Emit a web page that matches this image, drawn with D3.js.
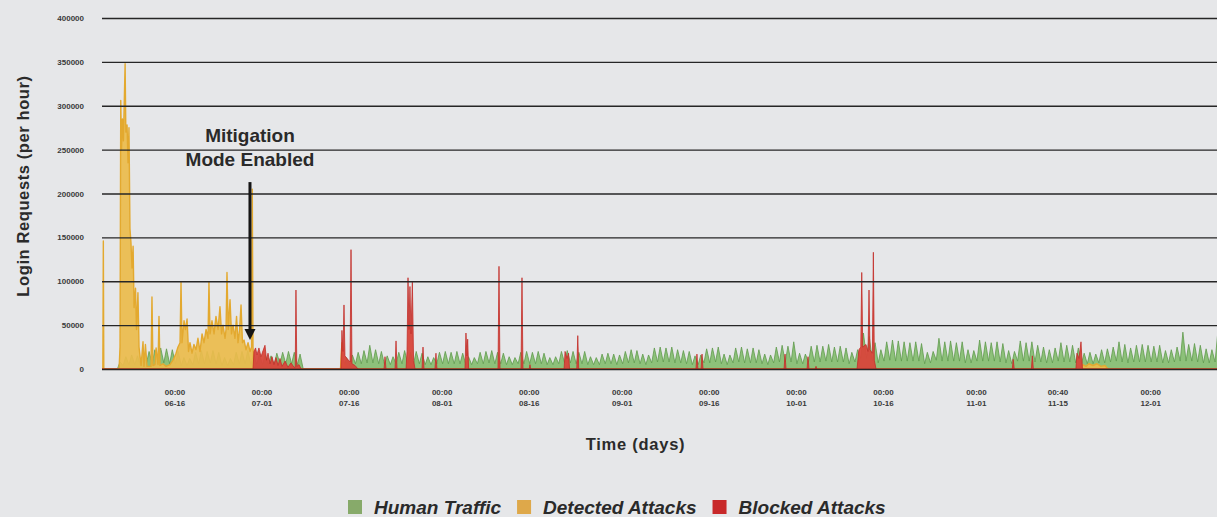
<!DOCTYPE html>
<html>
<head>
<meta charset="utf-8">
<script src="https://cdn.jsdelivr.net/npm/d3@7"></script>
<style>
  html, body { margin: 0; padding: 0; background: #e6e7e9; }
  svg { display: block; }
  text { font-family: "Liberation Sans", Arial, Helvetica, sans-serif; }
</style>
</head>
<body>
<svg id="chart" width="1217" height="517"></svg>
<script>
// ---- data ---------------------------------------------------------------
const seriesNames = ["Human Traffic", "Detected Attacks", "Blocked Attacks"];
const legendColors = ["#87aa6a", "#dea84a", "#c8292a"];

const timeRange = ["2023-06-03T12:30", "2023-12-12T12:00"];
const yTickValues = [0, 50000, 100000, 150000, 200000, 250000, 300000, 350000, 400000];
const xTickValues = [
  "2023-06-16T00:00", "2023-07-01T00:00", "2023-07-16T00:00", "2023-08-01T00:00",
  "2023-08-16T00:00", "2023-09-01T00:00", "2023-09-16T00:00", "2023-10-01T00:00",
  "2023-10-16T00:00", "2023-11-01T00:00", "2023-11-15T00:40", "2023-12-01T00:00"
];

// Human traffic: one daily high (afternoon) and one daily low (night), from 06-06
const humanStartDay = "2023-06-06";
const humanDailyPeak = [
  // June 6-30
  8000, 14000, 16000, 15000, 18000, 20000, 22000, 24000, 23000, 22000, 20000, 13000, 12000,
  19000, 21000, 20000, 21000, 19000, 13000, 12000, 19000, 20000, 21000, 18000, 17000,
  // July
  16000, 15000, 18000, 19000, 20000, 19000, 17000, 0, 0, 0, 0, 0, 0, 0,
  13000, 16000, 19000, 21000, 27000, 22000, 20000, 15000, 14000, 19000, 21000, 19000,
  20000, 18000, 14000, 13000, 19000,
  // August
  20000, 19000, 20000, 18000, 14000, 13000, 19000, 20000, 21000, 19000, 18000, 14000,
  13000, 19000, 20000, 19000, 20000, 18000, 13000, 14000, 20000, 21000, 20000, 19000,
  20000, 14000, 13000, 17000, 18000, 17000, 16000,
  // September
  20000, 22000, 21000, 17000, 16000, 24000, 25000, 24000, 25000, 22000, 21000, 20000,
  15000, 16000, 23000, 24000, 25000, 17000, 16000, 24000, 25000, 23000, 24000, 22000,
  17000, 16000, 25000, 27000, 26000, 31000,
  // October
  18000, 17000, 26000, 27000, 26000, 28000, 25000, 26000, 24000, 19000, 22000, 41000,
  37000, 30000, 22000, 31000, 33000, 32000, 31000, 30000, 31000, 29000, 19000, 20000,
  35000, 31000, 32000, 30000, 31000, 22000, 21000,
  // November
  33000, 31000, 30000, 31000, 29000, 21000, 20000, 32000, 30000, 31000, 27000, 25000,
  22000, 24000, 30000, 27000, 27000, 24000, 18000, 19000, 17000, 22000, 23000, 25000,
  31000, 28000, 24000, 27000, 28000, 27000,
  // December 1-12
  26000, 27000, 21000, 22000, 25000, 42000, 28000, 29000, 27000, 23000, 22000, 41000
];
const humanDailyLow = [
  0, 4000, 5000, 5000, 4000, 6000, 6000, 7000, 7000, 6000, 6000, 4000, 4000,
  5000, 6000, 6000, 7000, 6000, 4000, 4000, 5000, 6000, 6000, 5000, 5000,
  5000, 5000, 5000, 6000, 6000, 6000, 5000, 0, 0, 0, 0, 0, 0, 0,
  0, 5000, 6000, 6000, 7000, 7000, 6000, 5000, 5000, 6000, 6000, 6000,
  6000, 6000, 5000, 5000, 6000,
  6000, 6000, 6000, 6000, 5000, 5000, 6000, 6000, 7000, 6000, 6000, 5000,
  5000, 6000, 6000, 6000, 6000, 6000, 5000, 5000, 6000, 7000, 7000, 6000,
  6000, 5000, 5000, 5000, 6000, 6000, 5000,
  6000, 7000, 7000, 6000, 5000, 7000, 8000, 8000, 8000, 7000, 7000, 6000,
  5000, 5000, 7000, 7000, 8000, 6000, 5000, 7000, 8000, 7000, 7000, 7000,
  6000, 5000, 7000, 8000, 8000, 8000,
  6000, 6000, 8000, 8000, 8000, 9000, 8000, 8000, 8000, 6000, 8000, 12000,
  12000, 9000, 7000, 9000, 10000, 9000, 9000, 9000, 9000, 9000, 6000, 7000,
  10000, 9000, 9000, 9000, 9000, 7000, 7000,
  9000, 9000, 9000, 9000, 8000, 7000, 6000, 9000, 9000, 9000, 8000, 8000,
  7000, 7000, 9000, 8000, 8000, 7000, 6000, 6000, 6000, 7000, 7000, 8000,
  9000, 8000, 7000, 8000, 8000, 8000,
  8000, 8000, 7000, 7000, 8000, 9000, 9000, 9000, 8000, 7000, 7000, 8000
];

// Detected attacks, hourly requests at sampled times
const detectedAttacks = [
  ["2023-06-03T12:30", 0], ["2023-06-03T16:00", 0], ["2023-06-03T18:00", 146000], ["2023-06-03T20:00", 0],
  ["2023-06-06T11:00", 0], ["2023-06-06T15:00", 25000], ["2023-06-06T18:00", 306000], ["2023-06-06T21:00", 250000],
  ["2023-06-07T01:00", 285000], ["2023-06-07T05:00", 260000], ["2023-06-07T12:00", 348000], ["2023-06-07T15:00", 270000],
  ["2023-06-07T20:00", 278000], ["2023-06-08T00:00", 235000], ["2023-06-08T04:00", 275000], ["2023-06-08T08:00", 160000],
  ["2023-06-08T12:00", 145000], ["2023-06-08T16:30", 115000], ["2023-06-08T21:00", 140000], ["2023-06-09T01:00", 70000],
  ["2023-06-09T07:00", 92000], ["2023-06-09T11:00", 45000], ["2023-06-09T17:00", 87000], ["2023-06-09T21:30", 25000],
  ["2023-06-10T06:00", 4000], ["2023-06-10T14:00", 31000], ["2023-06-10T18:00", 3000], ["2023-06-11T00:00", 28000],
  ["2023-06-11T06:30", 3000], ["2023-06-11T23:00", 3000], ["2023-06-12T03:00", 82000], ["2023-06-12T07:00", 4000],
  ["2023-06-12T15:30", 5000], ["2023-06-12T20:00", 24000], ["2023-06-13T04:00", 5000], ["2023-06-13T08:00", 60000],
  ["2023-06-13T12:00", 4000], ["2023-06-14T00:30", 6000], ["2023-06-14T13:00", 3000], ["2023-06-15T05:30", 5000],
  ["2023-06-15T18:00", 10000], ["2023-06-16T06:30", 18000], ["2023-06-16T14:30", 25000], ["2023-06-16T23:00", 30000],
  ["2023-06-17T03:00", 99000], ["2023-06-17T07:00", 30000], ["2023-06-17T15:30", 55000], ["2023-06-17T21:30", 45000],
  ["2023-06-18T04:00", 57000], ["2023-06-18T10:00", 20000], ["2023-06-18T16:00", 30000], ["2023-06-19T00:30", 18000],
  ["2023-06-19T08:30", 28000], ["2023-06-19T17:00", 22000], ["2023-06-20T01:00", 35000], ["2023-06-20T09:30", 20000],
  ["2023-06-20T18:00", 40000], ["2023-06-21T02:00", 30000], ["2023-06-21T10:30", 45000], ["2023-06-21T18:30", 35000],
  ["2023-06-21T22:30", 99000], ["2023-06-22T03:00", 40000], ["2023-06-22T11:00", 55000], ["2023-06-22T19:30", 40000],
  ["2023-06-23T03:30", 60000], ["2023-06-23T12:00", 45000], ["2023-06-23T20:00", 71000], ["2023-06-24T02:30", 40000],
  ["2023-06-24T08:30", 50000], ["2023-06-24T17:00", 35000], ["2023-06-24T21:00", 45000], ["2023-06-25T01:00", 110000],
  ["2023-06-25T06:00", 45000], ["2023-06-25T13:30", 79000], ["2023-06-25T19:30", 40000], ["2023-06-26T02:00", 50000],
  ["2023-06-26T10:00", 35000], ["2023-06-26T16:30", 60000], ["2023-06-26T22:30", 30000], ["2023-06-27T05:00", 45000],
  ["2023-06-27T11:00", 73000], ["2023-06-27T17:00", 30000], ["2023-06-27T23:30", 33000], ["2023-06-28T07:30", 22000],
  ["2023-06-28T16:00", 30000], ["2023-06-29T00:00", 20000], ["2023-06-29T06:30", 25000], ["2023-06-29T09:30", 205000],
  ["2023-06-29T12:30", 25000], ["2023-06-29T16:30", 5000], ["2023-06-30T01:00", 0],
  ["2023-07-14T14:00", 0], ["2023-07-14T20:00", 30000], ["2023-07-15T00:30", 10000], ["2023-07-15T08:30", 6000],
  ["2023-07-15T17:00", 0],
  ["2023-11-18T22:00", 0], ["2023-11-19T10:00", 5000], ["2023-11-19T22:30", 3000], ["2023-11-20T11:00", 6000],
  ["2023-11-21T03:30", 4000], ["2023-11-21T20:00", 6000], ["2023-11-22T12:30", 3000], ["2023-11-23T05:00", 4000],
  ["2023-11-23T17:30", 0], ["2023-12-12T12:00", 0]
];

// Blocked attacks, hourly requests at sampled times
const blockedAttacks = [
  ["2023-06-03T12:30", 0], ["2023-06-29T12:30", 0], ["2023-06-29T16:30", 20000], ["2023-06-29T23:00", 24000],
  ["2023-06-30T05:00", 16000], ["2023-06-30T13:00", 24000], ["2023-06-30T21:30", 14000], ["2023-07-01T06:00", 21000],
  ["2023-07-01T14:00", 27000], ["2023-07-01T20:30", 10000], ["2023-07-02T02:30", 18000], ["2023-07-02T11:00", 6000],
  ["2023-07-02T19:00", 14000], ["2023-07-03T03:00", 5000], ["2023-07-03T11:30", 13000], ["2023-07-03T20:00", 4000],
  ["2023-07-04T04:00", 12000], ["2023-07-04T12:30", 3000], ["2023-07-05T01:00", 9000], ["2023-07-05T13:00", 2000],
  ["2023-07-06T01:30", 7000], ["2023-07-06T14:00", 2000], ["2023-07-06T19:00", 2000], ["2023-07-06T22:00", 90000],
  ["2023-07-07T01:30", 3000], ["2023-07-07T10:30", 5000], ["2023-07-07T19:00", 0],
  ["2023-07-14T16:00", 0], ["2023-07-14T20:00", 44000], ["2023-07-15T00:30", 20000], ["2023-07-15T04:30", 73000],
  ["2023-07-15T08:30", 15000], ["2023-07-15T17:00", 12000], ["2023-07-16T05:30", 8000], ["2023-07-16T09:30", 136000],
  ["2023-07-16T13:30", 6000], ["2023-07-17T02:00", 4000], ["2023-07-17T14:30", 0],
  ["2023-07-22T02:00", 0], ["2023-07-22T06:00", 14000], ["2023-07-22T10:00", 0],
  ["2023-07-23T23:30", 0], ["2023-07-24T03:30", 32000], ["2023-07-24T07:30", 0],
  ["2023-07-25T21:00", 0], ["2023-07-26T01:00", 20000], ["2023-07-26T05:00", 104000], ["2023-07-26T09:00", 45000],
  ["2023-07-26T13:00", 94000], ["2023-07-26T17:30", 40000], ["2023-07-26T23:00", 99000], ["2023-07-27T04:00", 10000],
  ["2023-07-27T10:00", 0],
  ["2023-07-28T15:00", 0], ["2023-07-28T19:00", 25000], ["2023-07-28T23:00", 0],
  ["2023-07-30T20:30", 0], ["2023-07-31T00:30", 18000], ["2023-07-31T04:30", 0],
  ["2023-08-05T00:30", 0], ["2023-08-05T04:30", 41000], ["2023-08-05T08:30", 15000], ["2023-08-05T11:30", 34000],
  ["2023-08-05T15:30", 0],
  ["2023-08-10T17:00", 0], ["2023-08-10T21:00", 117000], ["2023-08-11T01:00", 0],
  ["2023-08-14T16:00", 0], ["2023-08-14T20:00", 104000], ["2023-08-15T00:00", 0],
  ["2023-08-16T02:00", 0], ["2023-08-16T05:00", 5000], ["2023-08-16T08:00", 0],
  ["2023-08-22T02:00", 0], ["2023-08-22T06:00", 20000], ["2023-08-22T14:00", 12000], ["2023-08-22T20:30", 18000],
  ["2023-08-23T00:30", 0],
  ["2023-08-24T06:30", 0], ["2023-08-24T10:30", 38000], ["2023-08-24T14:30", 0],
  ["2023-09-13T19:00", 0], ["2023-09-13T23:00", 17000], ["2023-09-14T03:00", 0],
  ["2023-09-14T16:00", 0], ["2023-09-14T20:00", 17000], ["2023-09-15T00:00", 0],
  ["2023-09-28T23:00", 0], ["2023-09-29T03:00", 17000], ["2023-09-29T07:00", 0],
  ["2023-10-02T22:00", 0], ["2023-10-03T02:00", 14000], ["2023-10-03T06:00", 0],
  ["2023-10-04T08:00", 0], ["2023-10-04T11:00", 3000], ["2023-10-04T14:00", 0],
  ["2023-10-11T12:30", 0], ["2023-10-11T20:30", 22000], ["2023-10-12T04:00", 25000], ["2023-10-12T08:00", 110000],
  ["2023-10-12T12:00", 25000], ["2023-10-13T01:30", 28000], ["2023-10-13T10:00", 20000], ["2023-10-13T14:00", 90000],
  ["2023-10-13T18:00", 22000], ["2023-10-14T04:00", 18000], ["2023-10-14T08:00", 133000], ["2023-10-14T12:00", 10000],
  ["2023-10-14T19:00", 0],
  ["2023-11-07T06:00", 0], ["2023-11-07T10:00", 11000], ["2023-11-07T14:00", 0],
  ["2023-11-10T13:00", 0], ["2023-11-10T17:00", 15000], ["2023-11-10T21:00", 0],
  ["2023-11-18T05:00", 0], ["2023-11-18T09:30", 18000], ["2023-11-18T18:00", 12000], ["2023-11-19T02:00", 31000],
  ["2023-11-19T08:00", 0], ["2023-12-12T12:00", 0]
];

// Annotation: when mitigation mode was switched on
const mitigationTime = "2023-06-29T00:00";
const mitigationLabel = ["Mitigation", "Mode Enabled"];
const arrowFromValue = 213000;
const arrowToValue = 33000;

// ---- layout -------------------------------------------------------------
const W = 1217, H = 517;
const plot = { left: 102, right: 1217, top: 18, bottom: 369 };
const parseTime = d3.utcParse("%Y-%m-%dT%H:%M");
const parseDay = d3.utcParse("%Y-%m-%d");
const fmtTime = d3.utcFormat("%H:%M");
const fmtDay = d3.utcFormat("%m-%d");

const svg = d3.select("#chart");
svg.append("rect").attr("width", W).attr("height", H).attr("fill", "#e6e7e9");

const x = d3.scaleUtc().domain(timeRange.map(parseTime)).range([plot.left, plot.right]);
const y = d3.scaleLinear().domain([0, 400000]).range([plot.bottom, plot.top]);

// build the human traffic series from daily highs and lows
const dayStart = parseDay(humanStartDay);
const human = [{ t: parseTime(timeRange[0]), v: 0 }, { t: dayStart, v: 0 }];
humanDailyPeak.forEach((peak, i) => {
  const day = d3.utcDay.offset(dayStart, i);
  human.push({ t: d3.utcHour.offset(day, 4), v: humanDailyLow[i] });
  human.push({ t: d3.utcHour.offset(day, 15), v: peak });
});
const toPoints = arr => arr.map(([t, v]) => ({ t: parseTime(t), v }));
const detected = toPoints(detectedAttacks);
const blocked = toPoints(blockedAttacks);

svg.append("defs").append("clipPath").attr("id", "plot-clip")
  .append("rect")
  .attr("x", plot.left).attr("y", 0)
  .attr("width", plot.right - plot.left).attr("height", plot.bottom + 1);

const area = d3.area()
  .x(d => x(d.t))
  .y0(y(0))
  .y1(d => y(d.v))
  .curve(d3.curveLinear);

const marks = svg.append("g").attr("clip-path", "url(#plot-clip)");
marks.append("path").datum(human)
  .attr("d", area)
  .attr("fill", "#88bf74").attr("fill-opacity", 0.95)
  .attr("stroke", "#5f9a4c").attr("stroke-width", 0.8).attr("stroke-linejoin", "round");
marks.append("path").datum(detected)
  .attr("d", area)
  .attr("fill", "#ebbb4c").attr("fill-opacity", 0.93)
  .attr("stroke", "#e3a92f").attr("stroke-width", 1.4).attr("stroke-linejoin", "round");
marks.append("path").datum(blocked)
  .attr("d", area)
  .attr("fill", "#d8463b").attr("fill-opacity", 0.95)
  .attr("stroke", "#c32f29").attr("stroke-width", 0.8).attr("stroke-linejoin", "round");

// horizontal grid lines drawn over the areas
const grid = svg.append("g")
  .attr("transform", `translate(${plot.left},0)`)
  .call(d3.axisLeft(y).tickValues(yTickValues).tickSize(-(plot.right - plot.left)).tickFormat(""));
grid.select(".domain").remove();
grid.selectAll(".tick line").attr("stroke", "#262626").attr("stroke-width", 1.4);

// y tick labels
const gy = svg.append("g")
  .attr("transform", "translate(84,0)")
  .call(d3.axisLeft(y).tickValues(yTickValues).tickSize(0).tickPadding(0).tickFormat(d3.format("d")));
gy.select(".domain").remove();
gy.selectAll(".tick text")
  .attr("font-family", "'Liberation Sans', Arial, sans-serif")
  .attr("font-size", 8).attr("font-weight", "bold").attr("fill", "#3a3a3a");

// x tick labels: time on top, month-day below
const gx = svg.append("g")
  .attr("transform", `translate(0,${plot.bottom})`)
  .call(d3.axisBottom(x).tickValues(xTickValues.map(parseTime)).tickSize(0).tickFormat(fmtTime));
gx.select(".domain").remove();
gx.selectAll(".tick text").each(function (d) {
  const t = d3.select(this).text(null).attr("y", 0).attr("dy", null)
    .attr("font-family", "'Liberation Sans', Arial, sans-serif")
    .attr("font-size", 8).attr("font-weight", "bold").attr("fill", "#3a3a3a");
  t.append("tspan").attr("x", 0).attr("y", 26).text(fmtTime(d));
  t.append("tspan").attr("x", 0).attr("y", 37).text(fmtDay(d));
});

// axis titles
svg.append("text")
  .attr("transform", "translate(28.5,186) rotate(-90)")
  .attr("text-anchor", "middle")
  .attr("font-size", 16.5).attr("font-weight", "bold").attr("letter-spacing", 0.6)
  .attr("fill", "#2b2b2b")
  .text("Login Requests (per hour)");

svg.append("text")
  .attr("x", 635.5).attr("y", 449.5)
  .attr("text-anchor", "middle")
  .attr("font-size", 16.5).attr("font-weight", "bold").attr("letter-spacing", 0.75)
  .attr("fill", "#2b2b2b")
  .text("Time (days)");

// mitigation annotation
const ax = x(parseTime(mitigationTime));
const arrowTop = y(arrowFromValue), arrowTip = y(arrowToValue);
const note = svg.append("g");
note.append("line")
  .attr("x1", ax).attr("x2", ax).attr("y1", arrowTop).attr("y2", arrowTip - 10)
  .attr("stroke", "#151515").attr("stroke-width", 3);
note.append("path")
  .attr("d", d3.line()([[ax - 5.5, arrowTip - 11], [ax + 5.5, arrowTip - 11], [ax, arrowTip]]) + "Z")
  .attr("fill", "#151515");
note.append("text")
  .attr("text-anchor", "middle")
  .attr("font-size", 19).attr("font-weight", "bold").attr("fill", "#2a2a2a")
  .selectAll("tspan").data(mitigationLabel).join("tspan")
  .attr("x", ax)
  .attr("y", (d, i) => arrowTop - 40 + i * 23.5)
  .text(d => d);

// legend
const legend = svg.append("g").attr("transform", "translate(348,513.5)");
let lx = 0;
seriesNames.forEach((name, i) => {
  const item = legend.append("g").attr("transform", `translate(${lx},0)`);
  item.append("rect").attr("x", 0).attr("y", -13.5).attr("width", 14).attr("height", 14)
    .attr("fill", legendColors[i]);
  const label = item.append("text").attr("x", 26).attr("y", 0)
    .attr("font-size", 19).attr("font-weight", "bold").attr("font-style", "italic")
    .attr("fill", "#2a2a2a").text(name);
  lx += 26 + label.node().getComputedTextLength() + 16;
});
</script>
</body>
</html>
